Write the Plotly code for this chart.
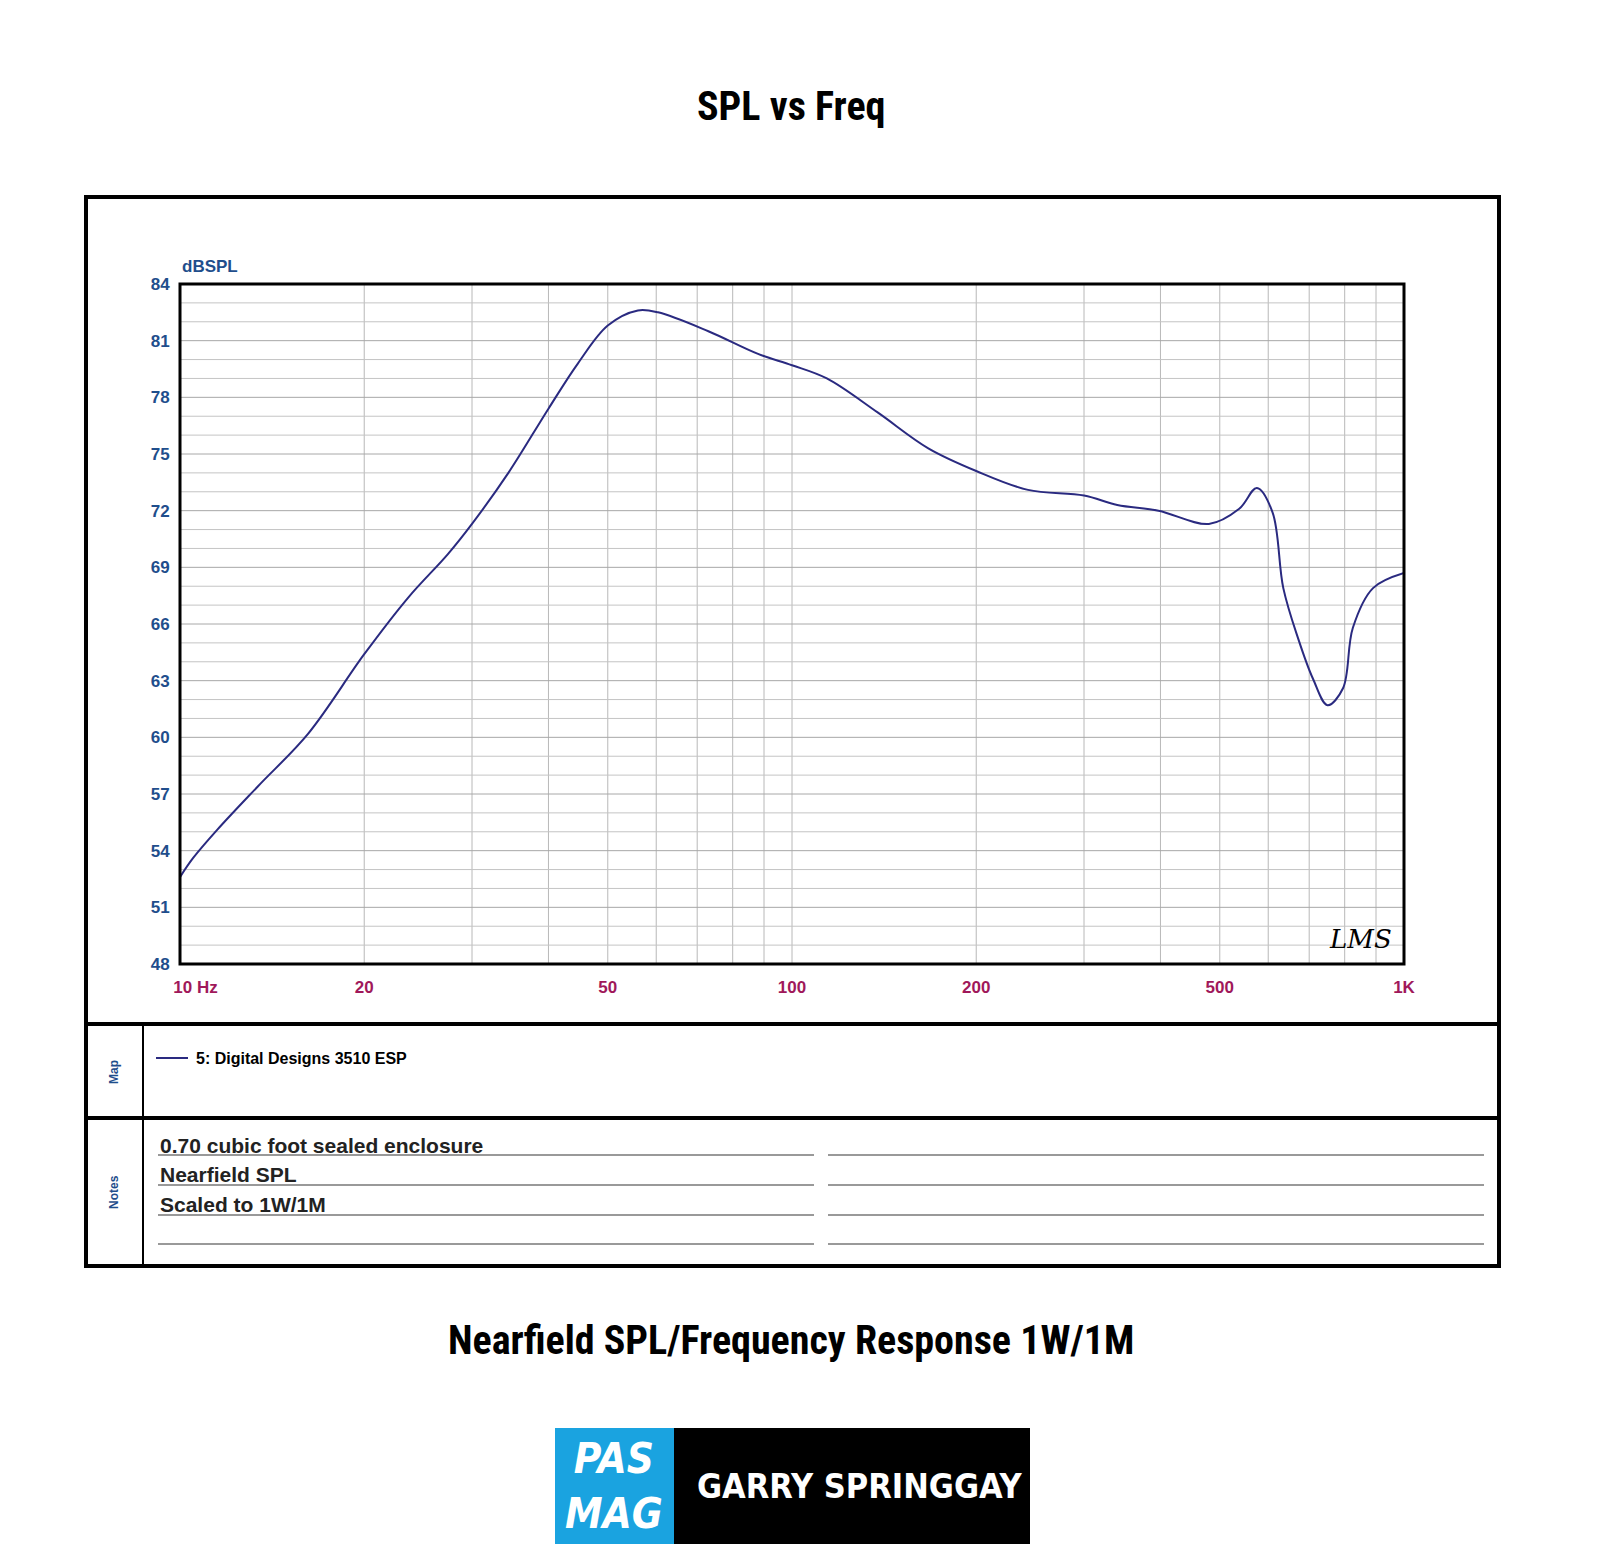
import plotly.graph_objects as go

# Frequency response (Hz, dB SPL)
freq = [10, 10.5, 11.5, 13.4, 16.2, 20, 23.6, 27.4, 30, 34.4, 40, 44.7, 50, 56, 60.4, 73, 88,
        100, 114, 138, 167, 200, 243, 300, 340, 397, 480, 538, 575, 610, 635, 672,
        710, 750, 795, 825, 890, 1000]
spl = [52.6, 53.6, 55.1, 57.4, 60.2, 64.4, 67.4, 69.7, 71.3, 74.0, 77.4, 79.8, 81.8, 82.6, 82.5,
       81.5, 80.3, 79.7, 79.0, 77.2, 75.3, 74.1, 73.1, 72.8, 72.3, 72.0, 71.3, 72.1,
       73.2, 71.9, 67.9, 65.2, 63.1, 61.7, 62.6, 65.8, 67.9, 68.7]
y_ticks = [48, 51, 54, 57, 60, 63, 66, 69, 72, 75, 78, 81, 84]
x_ticks = [10.6, 20, 50, 100, 200, 500, 1000]
x_labels = ["10 Hz", "20", "50", "100", "200", "500", "1K"]
notes = ["0.70 cubic foot sealed enclosure", "Nearfield SPL", "Scaled to 1W/1M"]

W, H = 1600, 1568
L, R, T, B = 172, 1396, 276, 956


def px(x):
    return (x - L) / (R - L)


def py(y):
    return (B - y) / (B - T)


fig = go.Figure()
fig.add_trace(go.Scatter(x=freq, y=spl, mode="lines", line=dict(color="#2a2a80", width=2),
                         line_shape="spline", showlegend=False))

grid_x = [f * d for d in (10, 100) for f in range(1, 10)] + [1000]
shapes = []
for f in grid_x:
    shapes.append(dict(type="line", xref="x", yref="y", x0=f, x1=f, y0=48, y1=84,
                       line=dict(color="#b8b8b8", width=1), layer="below"))
for v in range(49, 84):
    shapes.append(dict(type="line", xref="x", yref="y", x0=10, x1=1000, y0=v, y1=v,
                       line=dict(color="#c4c4c4" if v % 3 else "#a8a8a8", width=1), layer="below"))

def rect(x0, y0, x1, y1, **kw):
    d = dict(type="rect", xref="paper", yref="paper", x0=px(x0), x1=px(x1), y0=py(y1), y1=py(y0))
    d.update(kw)
    shapes.append(d)

def line(x0, y0, x1, y1, color="black", width=4):
    shapes.append(dict(type="line", xref="paper", yref="paper", x0=px(x0), x1=px(x1),
                       y0=py(y0), y1=py(y1), line=dict(color=color, width=width)))

rect(78, 189, 1491, 1258, line=dict(color="black", width=4))
rect(L, T, R, B, line=dict(color="black", width=3))
line(78, 1016, 1491, 1016)
line(78, 1110, 1491, 1110)
line(135, 1016, 135, 1258, width=2)
line(148, 1050, 180, 1050, color="#2a2a80", width=2)
for yy in (1147, 1177, 1207, 1236):
    line(150, yy, 806, yy, color="#777", width=1.5)
    line(820, yy, 1476, yy, color="#777", width=1.5)
rect(547, 1420, 666, 1536, fillcolor="#1aa3e0", line=dict(width=0))
rect(666, 1420, 1022, 1536, fillcolor="black", line=dict(width=0))

ann = []
def text(x, y, s, size, color="black", family="Arial", bold=True, xanchor="center", angle=0):
    ann.append(dict(xref="paper", yref="paper", x=px(x), y=py(y), text=f"<b>{s}</b>" if bold else s,
                    showarrow=False, xanchor=xanchor, yanchor="middle", textangle=angle,
                    font=dict(size=size, color=color, family=family)))

text(783, 98, "SPL vs Freq", 40, family="Roboto Condensed, DejaVu Sans Condensed")
text(783, 1332, "Nearfield SPL/Frequency Response 1W/1M", 40, family="Roboto Condensed, DejaVu Sans Condensed")
text(172, 258, "dBSPL", 17, color="#1f4e8c", xanchor="left")
text(1352, 931, "<i>LMS</i>", 26, family="DejaVu Serif", bold=False)
text(106, 1064, "Map", 12, color="#1f4e8c", angle=-90)
text(106, 1184, "Notes", 12, color="#1f4e8c", angle=-90)
text(186, 1050, "5: Digital Designs 3510 ESP", 16, xanchor="left")
for i, s in enumerate(notes):
    text(150, 1137 + 29.5 * i, s, 21, color="#222", xanchor="left")
text(606, 1478, "<i>PAS<br>MAG</i>", 42, color="white", family="DejaVu Sans Condensed")
text(851, 1478, "GARRY SPRINGGAY", 34, color="white", family="DejaVu Sans Condensed")

fig.update_layout(
    width=W, height=H, margin=dict(l=L, r=W - R, t=T, b=H - B),
    paper_bgcolor="white", plot_bgcolor="white",
    xaxis=dict(type="log", range=[1, 3], tickvals=x_ticks,
               ticktext=[f"<b>{s}</b>" for s in x_labels], showgrid=False,
               zeroline=False, tickfont=dict(size=17, color="#a0185a", family="Arial"),
               ticks="outside", ticklen=8, tickcolor="rgba(0,0,0,0)"),
    yaxis=dict(range=[48, 84], tickvals=y_ticks, ticktext=[f"<b>{v}</b>" for v in y_ticks],
               showgrid=False, zeroline=False, ticks="outside", ticklen=6, tickcolor="rgba(0,0,0,0)",
               tickfont=dict(size=17, color="#1f4e8c", family="Arial")),
    shapes=shapes, annotations=ann,
)
fig.write_html("out.html")
